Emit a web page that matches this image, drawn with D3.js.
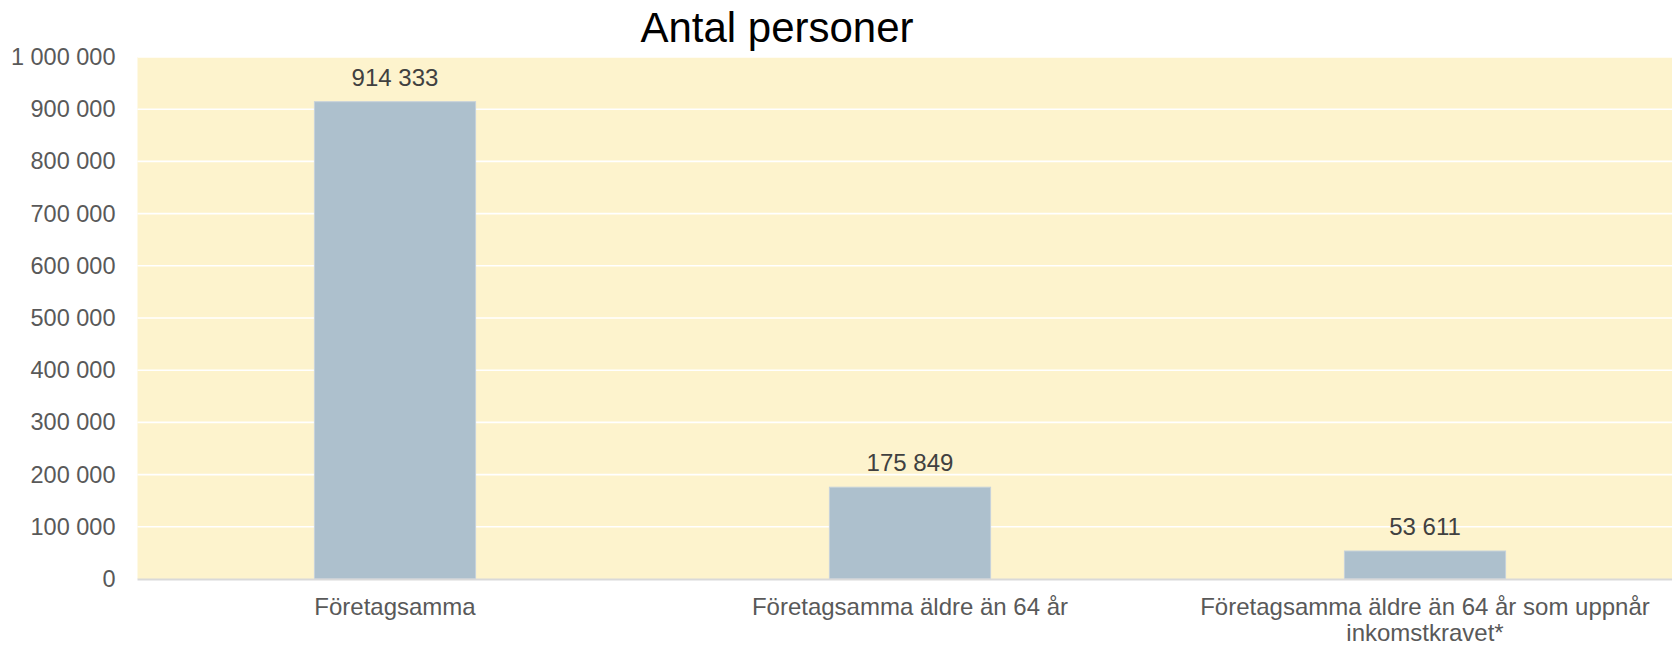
<!DOCTYPE html>
<html>
<head>
<meta charset="utf-8">
<script src="https://cdn.jsdelivr.net/npm/d3@7"></script>
<style>
  body { margin: 0; background: #fff; }
  svg { display: block; font-family: "Liberation Sans", Arial, sans-serif; }
</style>
</head>
<body>
<svg></svg>
<script>
'use strict';

const svgWidth = 1672;
const svgHeight = 645;

// data
const categories = [
  'Företagsamma',
  'Företagsamma äldre än 64 år',
  'Företagsamma äldre än 64 år som uppnår inkomstkravet*'
];
const values = [914333, 175849, 53611];
const yTicks = [0, 100000, 200000, 300000, 400000, 500000, 600000, 700000, 800000, 900000, 1000000];
const title = 'Antal personer';

const svg = d3.select('svg')
  .attr('width', svgWidth)
  .attr('height', svgHeight);

const plot = { left: 137.5, right: 1682.5, top: 57, bottom: 579 };

const locale = d3.formatLocale({ decimal: ',', thousands: ' ', grouping: [3], currency: ['', ''] });
const fmt = locale.format(',d');

const x = d3.scaleBand()
  .domain(categories)
  .range([plot.left, plot.right])
  .paddingInner(0.687)
  .paddingOuter(0.3435);

const y = d3.scaleLinear()
  .domain([0, 1000000])
  .range([plot.bottom, plot.top]);

// plot background
svg.append('rect')
  .attr('x', plot.left)
  .attr('y', plot.top)
  .attr('width', plot.right - plot.left)
  .attr('height', plot.bottom - plot.top)
  .attr('fill', '#fdf3cd');

// gridlines
svg.append('g')
  .attr('stroke', '#ffffff')
  .attr('stroke-width', 1.6)
  .selectAll('line')
  .data(yTicks.slice(1))
  .join('line')
  .attr('x1', plot.left)
  .attr('x2', plot.right)
  .attr('y1', d => y(d))
  .attr('y2', d => y(d));

// y axis labels
const yAxis = svg.append('g')
  .attr('transform', `translate(${plot.left},0)`)
  .call(d3.axisLeft(y).tickValues(yTicks).tickSize(0).tickPadding(22).tickFormat(fmt));

yAxis.select('.domain').remove();
yAxis.selectAll('text')
  .attr('font-size', 23.5)
  .attr('font-family', '"Liberation Sans", Arial, sans-serif')
  .attr('fill', '#595959');

// bars
svg.append('g')
  .selectAll('rect')
  .data(values)
  .join('rect')
  .attr('x', (d, i) => x(categories[i]))
  .attr('width', x.bandwidth())
  .attr('y', d => y(d))
  .attr('height', d => y(0) - y(d))
  .attr('fill', '#adc0cd')
  .attr('stroke', '#c6d2db')
  .attr('stroke-width', 1);

// zero axis line
svg.append('line')
  .attr('x1', plot.left)
  .attr('x2', plot.right)
  .attr('y1', y(0) + 0.5)
  .attr('y2', y(0) + 0.5)
  .attr('stroke', '#d9d9d9')
  .attr('stroke-width', 2);

// value labels
svg.append('g')
  .attr('text-anchor', 'middle')
  .attr('font-size', 24)
  .attr('fill', '#404040')
  .selectAll('text')
  .data(values)
  .join('text')
  .attr('x', (d, i) => x(categories[i]) + x.bandwidth() / 2)
  .attr('y', d => y(d) - 16)
  .text(d => fmt(d));

// category labels, wrapped to the band
const catG = svg.append('g')
  .attr('text-anchor', 'middle')
  .attr('font-size', 24)
  .attr('fill', '#595959');

catG.selectAll('text')
  .data(categories)
  .join('text')
  .attr('x', d => x(d) + x.bandwidth() / 2)
  .attr('y', 615)
  .each(function (d) {
    wrap(d3.select(this), d, x.step() * 0.95);
  });

function wrap(text, str, maxWidth) {
  const words = str.split(' ');
  let line = [];
  const cx = text.attr('x');
  let tspan = text.append('tspan').attr('x', cx).attr('dy', 0);
  words.forEach(w => {
    line.push(w);
    tspan.text(line.join(' '));
    if (tspan.node().getComputedTextLength() > maxWidth && line.length > 1) {
      line.pop();
      tspan.text(line.join(' '));
      line = [w];
      tspan = text.append('tspan').attr('x', cx).attr('dy', 25.5).text(w);
    }
  });
}

// title
svg.append('text')
  .attr('x', 777)
  .attr('y', 42)
  .attr('text-anchor', 'middle')
  .attr('font-size', 42)
  .attr('fill', '#000')
  .text(title);
</script>
</body>
</html>
